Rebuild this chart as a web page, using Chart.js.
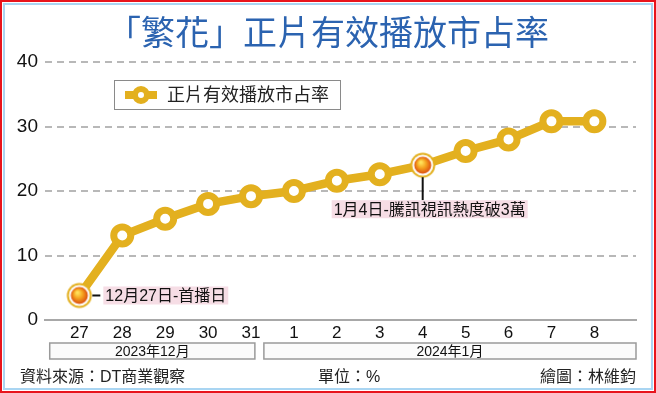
<!DOCTYPE html>
<html>
<head>
<meta charset="utf-8">
<script src="https://cdn.jsdelivr.net/npm/chart.js@4/dist/chart.umd.min.js"></script>
<style>
  html, body { margin: 0; padding: 0; background: #fff; }
  #wrap { width: 656px; height: 393px; position: relative; }
</style>
</head>
<body>
<div id="wrap"><canvas id="chart" width="656" height="393"></canvas></div>
<script>
// 資料
const dayLabels = ['27', '28', '29', '30', '31', '1', '2', '3', '4', '5', '6', '7', '8'];
const shareValues = [3.8, 13.1, 15.7, 18.0, 19.2, 20.0, 21.6, 22.6, 24.0, 26.2, 28.0, 30.8, 30.8];
const monthNames = ['2023年12月', '2024年1月'];
const monthFirstIdx = [0, 5];
const monthLastIdx = [4, 12];
const noteIdx = [0, 8];
const noteTexts = ['12月27日-首播日', '1月4日-騰訊視訊熱度破3萬'];

const TITLE = '「繁花」正片有效播放市占率';
const SERIES_NAME = '正片有效播放市占率';
const GOLD = '#e3b01f';
const FONT = "'Liberation Sans', 'Noto Sans CJK TC', sans-serif";

// 特別標記（橘色圓球）
function makeMarker() {
  const c = document.createElement('canvas');
  c.width = 28; c.height = 28;
  const g = c.getContext('2d');
  g.fillStyle = GOLD;
  g.beginPath(); g.arc(14, 14, 12.5, 0, Math.PI * 2); g.fill();
  g.fillStyle = '#fff';
  g.beginPath(); g.arc(14, 14, 10.5, 0, Math.PI * 2); g.fill();
  const grad = g.createRadialGradient(12, 11, 1, 14, 14, 9);
  grad.addColorStop(0, '#ffe15a');
  grad.addColorStop(0.45, '#f5a11e');
  grad.addColorStop(1, '#d9460f');
  g.fillStyle = grad;
  g.beginPath(); g.arc(14, 14, 8.5, 0, Math.PI * 2); g.fill();
  return c;
}
const marker = makeMarker();

const decorPlugin = {
  id: 'decor',
  afterDraw(chart) {
    const { ctx, chartArea } = chart;
    const xs = chart.scales.x;
    const ys = chart.scales.y;
    ctx.save();

    // 外框
    ctx.strokeStyle = '#e8141c';
    ctx.lineWidth = 2;
    ctx.strokeRect(1, 1, 654, 391);
    ctx.strokeStyle = '#a9d5f2';
    ctx.strokeRect(4, 4, 648, 385);

    // 標題
    ctx.fillStyle = '#2b63b0';
    ctx.font = "34px 'Noto Sans CJK TC', sans-serif";
    ctx.textAlign = 'center';
    ctx.textBaseline = 'middle';
    ctx.fillText(TITLE, 328, 32);

    // 圖例
    ctx.strokeStyle = '#8a8a8a';
    ctx.lineWidth = 1;
    ctx.strokeRect(114.5, 80.5, 226, 29);
    ctx.strokeStyle = GOLD;
    ctx.lineWidth = 8;
    ctx.beginPath(); ctx.moveTo(125, 95); ctx.lineTo(157, 95); ctx.stroke();
    ctx.lineWidth = 6;
    ctx.fillStyle = '#fff';
    ctx.beginPath(); ctx.arc(141, 95, 6, 0, Math.PI * 2); ctx.fill(); ctx.stroke();
    ctx.fillStyle = '#222';
    ctx.font = '18px ' + FONT;
    ctx.textAlign = 'left';
    ctx.fillText(SERIES_NAME, 167, 96);

    // 註解
    ctx.font = '16px ' + FONT;
    noteIdx.forEach((idx, k) => {
      const px = xs.getPixelForValue(idx);
      const py = ys.getPixelForValue(shareValues[idx]);
      const w = ctx.measureText(noteTexts[k]).width;
      ctx.strokeStyle = '#111';
      ctx.lineWidth = 2;
      let tx, ty;
      if (k === 0) {
        ctx.beginPath(); ctx.moveTo(px + 13, py); ctx.lineTo(px + 21, py); ctx.stroke();
        tx = px + 26; ty = py;
      } else {
        ctx.beginPath(); ctx.moveTo(px, py + 12); ctx.lineTo(px, py + 35); ctx.stroke();
        tx = px + 7 - w / 2; ty = py + 44;
      }
      ctx.fillStyle = '#f6dde5';
      ctx.fillRect(tx - 2, ty - 9, w + 4, 18);
      ctx.fillStyle = '#111';
      ctx.textAlign = 'left';
      ctx.fillText(noteTexts[k], tx, ty + 1);
    });

    // 月份框
    ctx.font = '14px ' + FONT;
    ctx.textAlign = 'center';
    monthNames.forEach((name, k) => {
      const x1 = k === 0 ? xs.getPixelForValue(monthFirstIdx[k] - 0.69) : xs.getPixelForValue(monthFirstIdx[k] - 0.7);
      const x2 = k === monthNames.length - 1 ? chartArea.right : xs.getPixelForValue(monthLastIdx[k] + 0.09);
      ctx.fillStyle = '#fbfbfb';
      ctx.fillRect(x1, 343, x2 - x1, 16);
      ctx.strokeStyle = '#9a9a9a';
      ctx.lineWidth = 1.5;
      ctx.strokeRect(x1, 343, x2 - x1, 16);
      ctx.fillStyle = '#111';
      ctx.fillText(name, (x1 + x2) / 2, 352);
    });

    // 頁尾
    ctx.font = '16px ' + FONT;
    ctx.fillStyle = '#222';
    ctx.textAlign = 'left';
    ctx.fillText('資料來源：DT商業觀察', 20, 378);
    ctx.fillText('單位：%', 318, 378);
    ctx.textAlign = 'right';
    ctx.fillText('繪圖：林維鈞', 636, 378);

    ctx.restore();
  }
};

new Chart(document.getElementById('chart'), {
  type: 'line',
  data: {
    datasets: [{
      label: SERIES_NAME,
      data: shareValues.map((v, i) => ({ x: i, y: v })),
      borderColor: GOLD,
      borderWidth: 8.5,
      backgroundColor: '#fff',
      pointBackgroundColor: '#fff',
      pointBorderColor: GOLD,
      pointBorderWidth: 7,
      pointRadius: 8.5,
      pointStyle: ctx => noteIdx.includes(ctx.dataIndex) ? marker : 'circle',
      tension: 0,
      clip: false
    }]
  },
  options: {
    responsive: false,
    animation: false,
    events: [],
    layout: { padding: { top: 62, right: 20, bottom: 51, left: 0 } },
    plugins: {
      legend: { display: false },
      tooltip: { enabled: false }
    },
    scales: {
      x: {
        type: 'linear',
        min: -0.8,
        max: 12.97,
        afterBuildTicks: axis => { axis.ticks = dayLabels.map((_, i) => ({ value: i })); },
        afterFit: scale => { scale.height = 22; },
        grid: { display: false, drawTicks: false },
        border: { display: true, color: '#a8a8a8', width: 2 },
        ticks: {
          autoSkip: false,
          maxRotation: 0,
          padding: 3,
          color: '#111',
          font: { family: FONT, size: 17 },
          callback: v => dayLabels[v] ?? ''
        }
      },
      y: {
        min: 0,
        max: 40,
        afterFit: scale => { scale.width = 45; },
        ticks: {
          stepSize: 10,
          padding: 7,
          color: '#111',
          font: { family: FONT, size: 19 }
        },
        grid: {
          drawTicks: false,
          lineWidth: 2,
          color: ctx => ctx.tick && ctx.tick.value === 0 ? 'rgba(0,0,0,0)' : '#b8b8b8'
        },
        border: { display: false, dash: [7, 5] }
      }
    }
  },
  plugins: [decorPlugin]
});
</script>
</body>
</html>
